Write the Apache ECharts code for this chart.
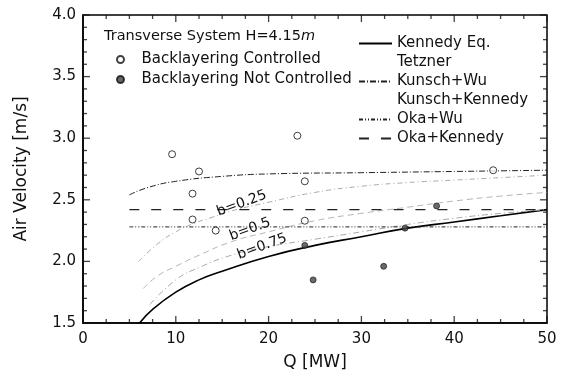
<!DOCTYPE html>
<html>
<head>
<meta charset="utf-8">
<script src="https://cdn.jsdelivr.net/npm/echarts@6/dist/echarts.min.js"></script>
<style>
  html, body { margin: 0; padding: 0; background: #fff; }
  #chart { width: 567px; height: 376px; }
</style>
</head>
<body>
<div id="chart"></div>
<script>
// measured points
const controlled = [[9.6, 2.87], [12.5, 2.73], [11.8, 2.55], [11.8, 2.34], [14.3, 2.25],
  [23.1, 3.02], [23.9, 2.65], [23.9, 2.33], [44.2, 2.74]];
const notControlled = [[23.9, 2.13], [24.8, 1.85], [32.4, 1.96], [34.7, 2.27], [38.1, 2.45]];

// model curves
const kennedy = [[6.1, 1.5], [7.5, 1.61], [10, 1.75], [12.5, 1.85], [15, 1.92], [20, 2.04],
  [25, 2.13], [30, 2.2], [35, 2.27], [40, 2.32], [45, 2.37], [50, 2.42]];
const kunschWu = [[5, 2.54], [7, 2.6], [10, 2.65], [15, 2.69], [20, 2.71], [30, 2.72],
  [40, 2.73], [50, 2.74]];
const okaWu = [[5, 2.28], [50, 2.28]];
const okaKennedy = [[5, 2.42], [50, 2.42]];
const b025 = [[6, 2.0], [8, 2.14], [10, 2.24], [12, 2.31], [14, 2.36], [16, 2.41], [20, 2.48],
  [25, 2.56], [30, 2.61], [35, 2.64], [40, 2.66], [45, 2.68], [50, 2.7]];
const b050 = [[6.5, 1.78], [8, 1.88], [10, 1.96], [12.5, 2.05], [16, 2.16], [20, 2.24],
  [25, 2.33], [30, 2.39], [35, 2.44], [40, 2.49], [45, 2.53], [50, 2.56]];
const b075 = [[7.2, 1.65], [10, 1.85], [12.5, 1.95], [16, 2.05], [20, 2.12], [25, 2.18],
  [30, 2.24], [35, 2.3], [40, 2.35], [45, 2.39], [50, 2.42]];

const bLabels = ['b=0.25', 'b=0.5', 'b=0.75'];
const bLabelAt = [[17.1, 2.47], [18.0, 2.26], [19.3, 2.12]];

// tick values of the frame
const xTicks = [0, 10, 20, 30, 40, 50];
const yTicks = [1.5, 2.0, 2.5, 3.0, 3.5, 4.0];
const xMinorSplit = 4;
const yMinorSplit = 5;

const font = 'DejaVu Sans';
const chart = echarts.init(document.getElementById('chart'));

function lineSeries(name, data, color, width, type) {
  return {
    name: name, type: 'line', data: data, smooth: true, showSymbol: false, symbol: 'none',
    lineStyle: { color: color, width: width, type: type }, itemStyle: { color: color },
    silent: true, z: 2
  };
}

// major + minor tick values
function withMinor(ticks, split) {
  const out = [];
  ticks.forEach((t, i) => {
    out.push([t, 7]);
    if (i < ticks.length - 1) {
      const step = (ticks[i + 1] - t) / split;
      for (let k = 1; k < split; k++) out.push([t + step * k, 4]);
    }
  });
  return out;
}

const xStart = xTicks[0], xEnd = xTicks[xTicks.length - 1];
const yStart = yTicks[0], yEnd = yTicks[yTicks.length - 1];

// frame ticks drawn as thin rect symbols sitting on the axes, pointing inward
const tickItems = [];
withMinor(xTicks, xMinorSplit).forEach(([v, len]) => {
  tickItems.push({ value: [v, yStart], symbolSize: [1.3, len], symbolOffset: [0, -len / 2] });
  tickItems.push({ value: [v, yEnd], symbolSize: [1.3, len], symbolOffset: [0, len / 2] });
});
withMinor(yTicks, yMinorSplit).forEach(([v, len]) => {
  tickItems.push({ value: [xStart, v], symbolSize: [len, 1.3], symbolOffset: [len / 2, 0] });
  tickItems.push({ value: [xEnd, v], symbolSize: [len, 1.3], symbolOffset: [-len / 2, 0] });
});

chart.setOption({
  animation: false,
  backgroundColor: '#fff',
  textStyle: { fontFamily: font },
  grid: { left: 83, right: 20, top: 15, bottom: 53, show: true, borderColor: '#000', borderWidth: 1.5 },
  title: {
    text: 'Transverse System H=4.15{i|m}',
    left: 99, top: 24,
    textStyle: {
      fontFamily: font, fontSize: 14.5, fontWeight: 'normal', color: '#111',
      rich: { i: { fontFamily: font, fontSize: 14.5, fontStyle: 'italic', color: '#111' } }
    }
  },
  legend: [{
    data: ['Backlayering Controlled', 'Backlayering Not Controlled'],
    orient: 'vertical', left: 111, top: 46, itemWidth: 22, itemHeight: 7, itemGap: 3,
    textStyle: { fontFamily: font, fontSize: 15, color: '#111', padding: [0, 0, 0, 5], lineHeight: 17 }
  }, {
    data: [
      'Kennedy Eq.',
      { name: 'Tetzner', lineStyle: { opacity: 0 } },
      'Kunsch+Wu',
      { name: 'Kunsch+Kennedy', lineStyle: { opacity: 0 } },
      'Oka+Wu',
      'Oka+Kennedy'
    ],
    orient: 'vertical', left: 353, top: 31, itemWidth: 33, itemHeight: 14, itemGap: 4,
    itemStyle: { opacity: 0 },
    textStyle: { fontFamily: font, fontSize: 15, color: '#111' }
  }],
  xAxis: {
    type: 'value', min: xStart, max: xEnd, interval: 10,
    name: 'Q [MW]', nameLocation: 'middle', nameGap: 31,
    nameTextStyle: { fontFamily: font, fontSize: 17, color: '#111' },
    axisLine: { show: true, onZero: false, lineStyle: { color: '#000', width: 1.5 } },
    axisTick: { show: false },
    splitLine: { show: false },
    axisLabel: { fontFamily: font, fontSize: 15, color: '#111', margin: 9 }
  },
  yAxis: {
    type: 'value', min: yStart, max: yEnd, interval: 0.5,
    name: 'Air Velocity [m/s]', nameLocation: 'middle', nameGap: 53,
    nameTextStyle: { fontFamily: font, fontSize: 17, color: '#111' },
    axisLine: { show: true, onZero: false, lineStyle: { color: '#000', width: 1.5 } },
    axisTick: { show: false },
    splitLine: { show: false },
    axisLabel: { fontFamily: font, fontSize: 15, color: '#111', margin: 7, formatter: v => v.toFixed(1) }
  },
  series: [
    lineSeries('Kennedy Eq.', kennedy, '#000', 1.6, 'solid'),
    lineSeries('Tetzner', b025, '#aaa', 1, [5, 3, 1, 3]),
    lineSeries('Kunsch+Wu', kunschWu, '#222', 1, [6, 2, 1, 2]),
    lineSeries('Kunsch+Kennedy', b050, '#b4b4b4', 1, [6, 4]),
    lineSeries('Kunsch+Kennedy', b075, '#a8a8a8', 1, [6, 3, 1, 3]),
    lineSeries('Oka+Wu', okaWu, '#222', 1, [4, 2, 1, 2, 1, 2]),
    lineSeries('Oka+Kennedy', okaKennedy, '#222', 1.2, [10, 12]),
    {
      name: 'Backlayering Controlled', type: 'scatter', data: controlled,
      symbol: 'circle', symbolSize: 7, z: 5,
      itemStyle: { color: '#fff', borderColor: '#111', borderWidth: 1 }
    },
    {
      name: 'Backlayering Not Controlled', type: 'scatter', data: notControlled,
      symbol: 'circle', symbolSize: 6, z: 5,
      itemStyle: { color: '#444', borderColor: '#111', borderWidth: 0.8 }
    },
    {
      name: 'frameTicks', type: 'scatter', data: tickItems, symbol: 'rect',
      clip: false, silent: true, z: 6,
      itemStyle: { color: '#111' }
    }
  ]
});

// rotated b labels, placed through the chart's scales
const toPx = v => chart.convertToPixel({ xAxisIndex: 0, yAxisIndex: 0 }, v);
chart.setOption({
  graphic: bLabels.map((t, i) => {
    const p = toPx(bLabelAt[i]);
    return {
      type: 'text', x: p[0], y: p[1], rotation: 0.35, z: 10,
      style: { text: t, fontFamily: font, fontSize: 14, fill: '#111',
        align: 'center', verticalAlign: 'middle' }
    };
  })
});
</script>
</body>
</html>
